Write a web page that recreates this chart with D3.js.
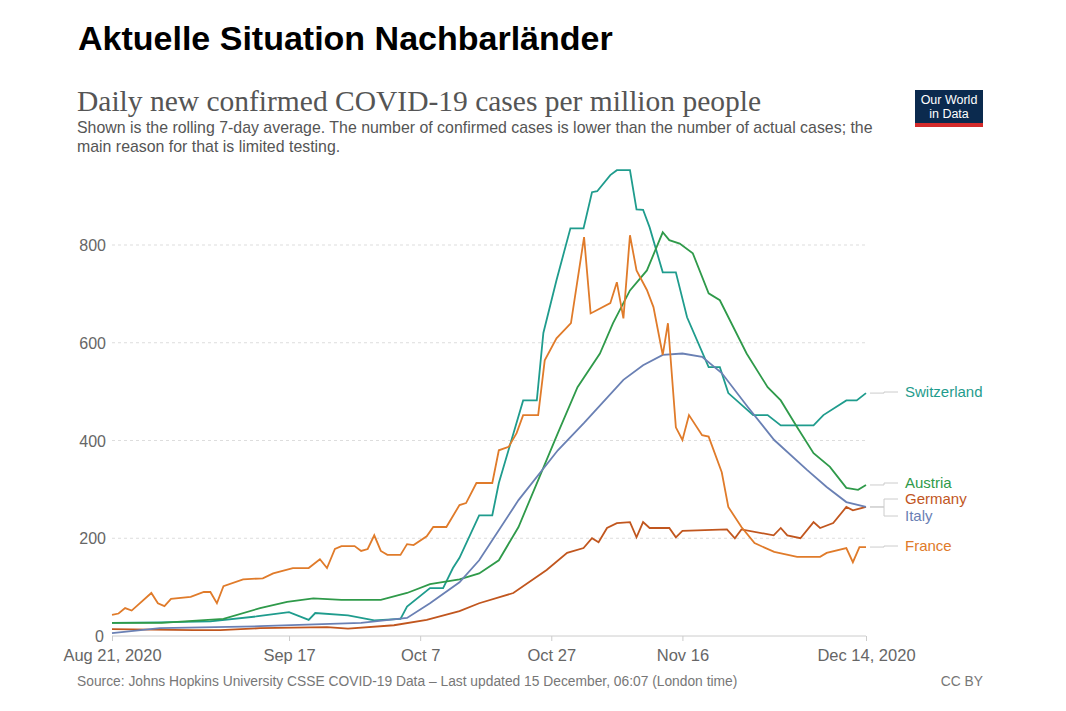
<!DOCTYPE html>
<html><head><meta charset="utf-8">
<script src="https://cdn.jsdelivr.net/npm/d3@7"></script>
<style>body{margin:0;background:#fff}</style>
</head><body>
<svg id="c" width="1066" height="711"></svg>
<script>
// data: [days since Aug 21 2020, cases per million]
const startDate = new Date(2020, 7, 21);
const switzerland = [[0,27],[7,28],[15,30],[22,40],[27,49],[30,33],[31,47],[36,42],[40,32],[44,35],[45,60],[48.5,98],[50.5,98],[52,139],[53,160],[56,247],[58,247],[59,313],[62.7,482],[64.8,482],[65.8,620],[67.8,728],[69.9,834],[71.9,834],[73.2,908],[74,910],[76,943],[77,953],[79,953],[80,873],[81,872],[82,836],[84,744],[86,744],[87.7,652],[91,550],[92.7,550],[94,497],[97.8,452],[100,452],[102,431],[107,431],[108.5,452],[112,482],[113.6,482],[115,497]];
const austria = [[0,27],[7.6,27],[17,35],[22.6,57],[26.7,70],[30.7,77],[35,74],[41,74],[45,88],[48.5,106],[53,116],[56,128],[59,155],[62,223],[65,319],[68,415],[71,509],[74.4,578],[76.4,640],[79,707],[81.6,748],[84,826],[85,810],[86.6,803],[88.6,783],[91,701],[92.7,687],[96.8,578],[100,509],[102,482],[104.5,427],[107,374],[109.5,346],[112,303],[113.8,299],[115,309]];
const italy = [[0,6],[7.3,16],[22.6,20],[38,27],[45,37],[48.5,67],[53,110],[56,155],[62,278],[68,380],[72,436],[78,524],[81,554],[84,575],[87,578],[90,571],[93,538],[97,468],[101,401],[106,340],[109,305],[112,274],[115,264]];
const germany = [[0,14],[12.4,12],[16.5,12],[22.6,16],[32.8,18],[36,15],[43,22],[48,33],[53,51],[56,67],[61.2,88],[66.3,135],[69.4,170],[71.9,180],[73.2,200],[74.2,192],[75.5,221],[77,231],[79,233],[80,202],[81,233],[82,221],[85,221],[86,202],[87,215],[93.8,218],[95,200],[96,218],[100.9,206],[102,221],[103,206],[105,200],[107,233],[108,221],[110,231],[112,264],[113,257],[115,264]];
const france = [[0,43],[1,46],[2,57],[3,52],[6,88],[7,67],[8,61],[9,76],[12,80],[14,90],[15,90],[16,67],[17,102],[20,116],[23,118],[24.6,128],[27.6,139],[30,139],[31.7,157],[32.8,139],[34,178],[35,184],[37,184],[38,174],[39,178],[40,206],[41,174],[42,166],[44,166],[45,188],[46,186],[48,204],[49,223],[51,223],[53,268],[54,272],[55.6,313],[58,313],[59,380],[60.5,387],[61.7,415],[62.7,452],[65,452],[66,564],[67.8,609],[70,640],[72,816],[73,660],[74,667],[76,681],[77,724],[78,650],[79,820],[80,748],[81.6,708],[82.6,673],[84,575],[84.8,640],[86,427],[87,401],[88,452],[90,411],[91,408],[93,335],[94,264],[96,223],[98,190],[101,172],[104.5,162],[108,162],[109,170],[112,180],[113,151],[114,182],[115,182]];
const yTicks = [0, 200, 400, 600, 800];
const xTickDays = [0, 27, 47, 67, 87, 115];
const xTickLabels = ["Aug 21, 2020", "Sep 17", "Oct 7", "Oct 27", "Nov 16", "Dec 14, 2020"];

const series = [
  {name: "Switzerland", data: switzerland, color: "#1f9c8d", ly: 392},
  {name: "Austria", data: austria, color: "#2f9a4a", ly: 483},
  {name: "Germany", data: germany, color: "#c1561e", ly: 499},
  {name: "Italy", data: italy, color: "#6a80b4", ly: 516},
  {name: "France", data: france, color: "#e07b2a", ly: 546}
];

const svg = d3.select("#c");
const sans = "Liberation Sans, Arial, sans-serif";
const toDate = d => d3.timeHour.offset(startDate, Math.round(d * 24));

const x = d3.scaleTime().domain([startDate, toDate(115)]).range([112, 866]);
const y = d3.scaleLinear().domain([0, 800]).range([636, 245]);

// titles
svg.append("text").attr("x", 78).attr("y", 50)
  .attr("font-family", sans).attr("font-weight", "bold")
  .attr("font-size", 34).attr("fill", "#000").text("Aktuelle Situation Nachbarländer");
svg.append("text").attr("x", 77).attr("y", 111)
  .attr("font-family", "Liberation Serif, serif").attr("font-size", 29.5).attr("fill", "#555")
  .text("Daily new confirmed COVID-19 cases per million people");
svg.append("text").attr("x", 77).attr("y", 133)
  .attr("font-family", sans).attr("font-size", 15.9).attr("fill", "#555")
  .text("Shown is the rolling 7-day average. The number of confirmed cases is lower than the number of actual cases; the");
svg.append("text").attr("x", 77).attr("y", 152)
  .attr("font-family", sans).attr("font-size", 15.9).attr("fill", "#555")
  .text("main reason for that is limited testing.");

// logo
svg.append("rect").attr("x", 915).attr("y", 90).attr("width", 68).attr("height", 34).attr("fill", "#0b2a4e");
svg.append("rect").attr("x", 915).attr("y", 123).attr("width", 68).attr("height", 4).attr("fill", "#d42b2b");
svg.append("text").attr("x", 949).attr("y", 104).attr("text-anchor", "middle")
  .attr("font-family", sans).attr("font-size", 12.5).attr("fill", "#fff").text("Our World");
svg.append("text").attr("x", 949).attr("y", 118).attr("text-anchor", "middle")
  .attr("font-family", sans).attr("font-size", 12.5).attr("fill", "#fff").text("in Data");

// grid + y axis
const gy = svg.append("g");
yTicks.forEach(t => {
  if (t > 0) gy.append("line").attr("x1", 112).attr("x2", 866).attr("y1", y(t)).attr("y2", y(t))
    .attr("stroke", "#ddd").attr("stroke-dasharray", "3,3");
  gy.append("text").attr("x", t === 0 ? 104 : 106).attr("y", y(t) + 6).attr("text-anchor", "end")
    .attr("font-family", sans).attr("font-size", 16).attr("fill", "#666").text(t);
});
gy.append("line").attr("x1", 112).attr("x2", 866).attr("y1", y(0)).attr("y2", y(0)).attr("stroke", "#ccc");

// x axis
const xAxis = d3.axisBottom(x).tickValues(xTickDays.map(toDate))
  .tickFormat((d, i) => xTickLabels[i]).tickSize(5).tickSizeOuter(0);
const gx = svg.append("g").attr("transform", `translate(0,${y(0)})`).call(xAxis);
gx.select(".domain").remove();
gx.selectAll("line").attr("stroke", "#ccc");
gx.selectAll("text").attr("font-family", sans)
  .attr("font-size", 16.5).attr("fill", "#666").attr("dy", "1.05em");

// lines
const line = d3.line().x(d => x(toDate(d[0]))).y(d => y(d[1]));
series.forEach(s => {
  svg.append("path").datum(s.data).attr("d", line).attr("fill", "none")
    .attr("stroke", s.color).attr("stroke-width", 1.8);
  const last = s.data[s.data.length - 1];
  const ey = y(last[1]);
  svg.append("path").attr("d", `M${x(toDate(last[0])) + 4},${ey}H884V${s.ly}H898`)
    .attr("fill", "none").attr("stroke", "#ccc");
  svg.append("text").attr("x", 905).attr("y", s.ly + 5)
    .attr("font-family", sans).attr("font-size", 15)
    .attr("fill", s.color).text(s.name);
});

// footer
svg.append("text").attr("x", 77).attr("y", 686)
  .attr("font-family", sans).attr("font-size", 13.8).attr("fill", "#777")
  .text("Source: Johns Hopkins University CSSE COVID-19 Data – Last updated 15 December, 06:07 (London time)");
svg.append("text").attr("x", 983).attr("y", 686).attr("text-anchor", "end")
  .attr("font-family", sans).attr("font-size", 13.8).attr("fill", "#777")
  .text("CC BY");
</script>
</body></html>
